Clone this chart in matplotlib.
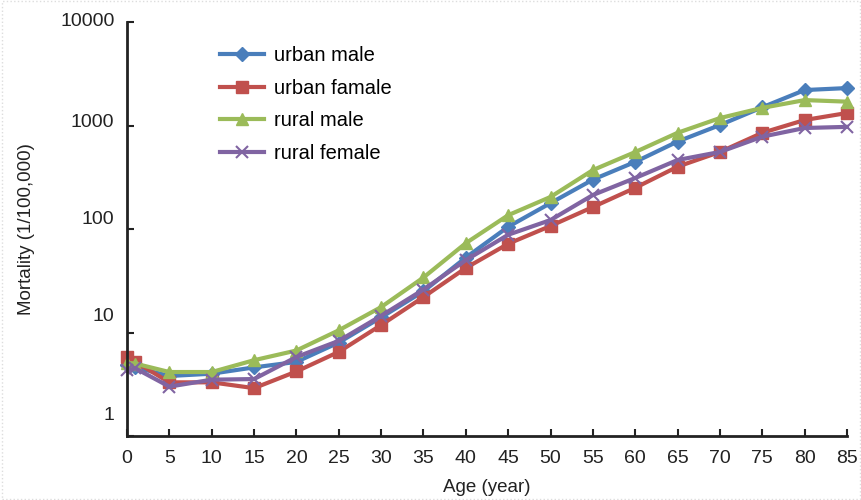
import matplotlib
matplotlib.use("Agg")
import matplotlib.pyplot as plt
from matplotlib.transforms import ScaledTranslation
from matplotlib.patches import Rectangle

plt.rcParams['font.family'] = ['Liberation Sans', 'DejaVu Sans']

# age groups and mortality per 100,000
ages = [0, 1, 5, 10, 15, 20, 25, 30, 35, 40, 45, 50, 55, 60, 65, 70, 75, 80, 85]
urban_male = [4.9, 4.6, 3.8, 4.0, 4.6, 5.2, 8.0, 14.0, 25, 53, 105, 178, 300, 445, 700, 1010, 1500, 2200, 2300]
urban_female = [5.8, 5.2, 3.3, 3.3, 2.9, 4.2, 6.5, 11.8, 22, 42, 72, 107, 163, 250, 400, 555, 850, 1130, 1320]
rural_male = [5.1, 5.0, 4.15, 4.15, 5.4, 6.7, 10.5, 17.6, 34, 73, 136, 204, 371, 554, 850, 1180, 1480, 1760, 1700]
rural_female = [4.3, 4.5, 3.0, 3.5, 3.55, 5.8, 8.3, 14.5, 26, 50, 88, 122, 213, 311, 464, 555, 780, 946, 970]
labels = ['urban male', 'urban famale', 'rural male', 'rural female']
x_ticks = list(range(0, 90, 5))
y_ticks = [1, 10, 100, 1000, 10000]

fig = plt.figure(figsize=(8.62, 5.0), dpi=100)
ax = fig.add_axes([127/862, 1-436/500, 720/862, 414/500])

ax.plot(ages, urban_male, color='#4a7ebb', lw=3, marker='D', ms=7, label=labels[0], clip_on=False)
ax.plot(ages, urban_female, color='#c0504d', lw=3, marker='s', ms=8, label=labels[1], clip_on=False)
ax.plot(ages, rural_male, color='#9bbb59', lw=3, marker='^', ms=9, label=labels[2], clip_on=False)
ax.plot(ages, rural_female, color='#8064a2', lw=3, marker='x', ms=9, mew=1.5, label=labels[3], clip_on=False)

ax.set_yscale('log')
ax.set_ylim(1, 10000)
ax.set_xlim(0, 85)
ax.set_xticks(x_ticks)
ax.set_yticks(y_ticks)
ax.set_yticklabels([str(v) for v in y_ticks])
ax.minorticks_off()
ax.tick_params(direction='in', length=5, width=1.5, labelsize=14, colors='#222222')
ax.tick_params(axis='x', pad=10)
ax.tick_params(axis='y', pad=9)

# tick labels of the original sit a bit above their ticks
offsets = [23, 18, 12, 5, 2]
for lab, dy in zip(ax.get_yticklabels(), offsets):
    lab.set_transform(lab.get_transform() + ScaledTranslation(0, dy/100, fig.dpi_scale_trans))

for s in ['top', 'right']:
    ax.spines[s].set_visible(False)
for s in ['left', 'bottom']:
    ax.spines[s].set_linewidth(2)
    ax.spines[s].set_color('#222222')

ax.legend(loc='upper left', bbox_to_anchor=(220/862, 1-46/500), bbox_transform=fig.transFigure,
          frameon=False, fontsize=14.5, handlelength=2.2, handletextpad=0.5, labelspacing=0.68,
          borderpad=0, borderaxespad=0)

fig.text(27/862, 1-229/500, 'Mortality (1/100,000)', rotation=90, ha='center', va='center',
         fontsize=13.5, color='#222222')
fig.text(487/862, 1-488/500, 'Age (year)', ha='center', va='center', fontsize=13.5, color='#222222')

fig.patches.append(Rectangle((0.002, 0.002), 0.996, 0.996, transform=fig.transFigure,
                             fill=False, ls=':', ec='#dddddd', lw=1))

fig.savefig('out.png', dpi=100)
